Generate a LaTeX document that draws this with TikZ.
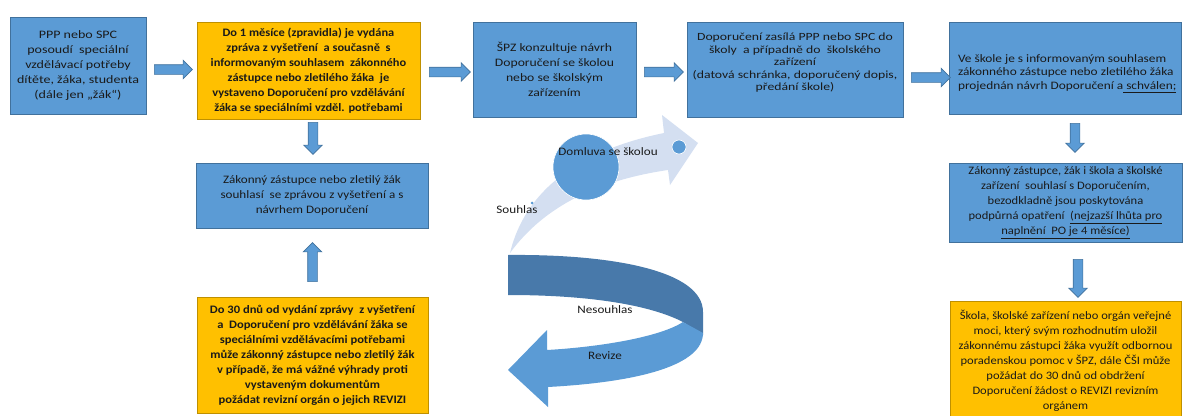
\documentclass[tikz,border=0pt]{standalone}
\usepackage{fontspec}
\setmainfont{Carlito}
\usetikzlibrary{shapes.arrows}
\definecolor{bfill}{HTML}{5B9BD5}
\definecolor{bline}{HTML}{41719C}
\definecolor{ofill}{HTML}{FFC000}
\definecolor{oline}{HTML}{BF9000}
\definecolor{dband}{HTML}{4879AA}
\definecolor{lband}{HTML}{D4DFF1}
\definecolor{txt}{HTML}{1A1A1A}
\newcommand\cf[1]{\fontspec{Carlito}[FakeStretch=#1]\fontsize{11.4}{15}\selectfont}
\begin{document}
\begin{tikzpicture}[x=1pt,y=-1pt,
  every node/.style={inner sep=0pt,outer sep=0pt,text=txt},
  bluebox/.style={draw=bline,fill=bfill,line width=0.7pt,align=center},
  orangebox/.style={draw=oline,fill=ofill,line width=0.7pt,align=center},
  barrow/.style={single arrow,draw=bline,fill=bfill,line width=0.6pt,inner xsep=0pt,inner ysep=4.5pt,single arrow head extend=4.5pt,single arrow head indent=0pt},
  vbarrow/.style={barrow,inner xsep=4.5pt,inner ysep=0pt},
  lbl/.style={font=\cf{1.15}}
]
\useasboundingbox (0,0) rectangle (1183,415);

% boxes
\node[bluebox,minimum width=136pt,minimum height=97pt,font=\cf{1.23}] (b1) at (78,65.5)
  {PPP nebo SPC\\posoudí\ \ speciální\\vzdělávací potřeby\\dítěte, žáka, studenta\\(dále jen „žák“)};
\node[orangebox,minimum width=223pt,minimum height=97pt,font=\cf{1.09}\bfseries] (b2) at (308.5,70.5)
  {Do 1 měsíce (zpravidla) je vydána\\zpráva z vyšetření\ \ a současně\ \ s\\informovaným souhlasem\ \ zákonného\\zástupce nebo zletilého žáka\ \ je\\vystaveno Doporučení pro vzdělávání\\žáka se speciálními vzděl. potřebami};
\node[bluebox,minimum width=163pt,minimum height=95pt,font=\cf{1.2}] (b3) at (554.5,69.5)
  {ŠPZ konzultuje návrh\\Doporučení se školou\\nebo se školským\\zařízením};
\node[bluebox,minimum width=216pt,minimum height=95pt] (b4) at (795,69.5) {};
\node[font=\cf{1.25}\fontsize{11}{12.5}\selectfont,align=center] (b4t) at (795,63)
  {Doporučení zasílá PPP nebo SPC do\\školy\ \ a případně do\ \ školského\\zařízení\\(datová schránka, doporučený dopis,\\předání škole)};
\node[bluebox,minimum width=232pt,minimum height=92pt] (b5) at (1065,68) {};
\node[font=\cf{1.17}\fontsize{11.4}{13.5}\selectfont,align=left,anchor=west] (b5t) at (958,73.5)
  {Ve škole je s informovaným souhlasem\\zákonného zástupce nebo zletilého žáka\\projednán návrh Doporučení a\underline{ schválen;}};
\node[bluebox,minimum width=233pt,minimum height=79pt,font=\cf{1.1}] (b6) at (1065.5,202.5)
  {Zákonný zástupce, žák i škola a školské\\zařízení\ \ souhlasí s Doporučením,\\bezodkladně jsou poskytována\\podpůrná opatření\ \ \underline{(nejzazší lhůta pro}\\\underline{naplnění\ \ PO je 4 měsíce)}};
\node[orangebox,minimum width=231pt,minimum height=119pt,font=\cf{1.1}] (b7) at (1065.5,360.5)
  {Škola, školské zařízení nebo orgán veřejné\\moci, který svým rozhodnutím uložil\\zákonnému zástupci žáka využít odbornou\\poradenskou pomoc v ŠPZ, dále ČŠI může\\požádat do 30 dnů od obdržení\\Doporučení žádost o REVIZI revizním\\orgánem};
\node[bluebox,minimum width=232pt,minimum height=65pt,font=\cf{1.15}] (b8) at (312,195.5)
  {Zákonný zástupce nebo zletilý žák\\souhlasí\ \ se zprávou z vyšetření a s\\návrhem Doporučení};
\node[orangebox,minimum width=231pt,minimum height=116pt,font=\cf{1.1}\bfseries] (b9) at (312.5,355)
  {Do 30 dnů od vydání zprávy\ \ z vyšetření\\a\ \ Doporučení pro vzdělávání žáka se\\speciálními vzdělávacími potřebami\\může zákonný zástupce nebo zletilý žák\\v případě, že má vážné výhrady proti\\vystaveným dokumentům\\požádat revizní orgán o jejich REVIZI};

% block arrows
\node[barrow,minimum height=38pt] (a1) at (171,69.5) {};
\node[barrow,minimum height=41pt] (a2) at (447.5,72) {};
\node[barrow,minimum height=39pt] (a3) at (661.5,72) {};
\node[barrow,minimum height=39pt] (a4) at (928.5,77.5) {};
\node[vbarrow,minimum height=32pt,shape border rotate=270] (a5) at (313,136) {};
\node[vbarrow,minimum height=29pt,shape border rotate=270] (a6) at (1075,135.5) {};
\node[vbarrow,minimum height=38pt,shape border rotate=270] (a7) at (1078,276) {};
\node[vbarrow,minimum height=39pt,shape border rotate=90] (a8) at (312.5,264.5) {};

% light curved arrow (Souhlas)
\fill[lband] (510,253) .. controls (525,190) and (580,150) .. (664,133)
  -- (662,115) -- (698,143) -- (670,185) -- (668,170)
  .. controls (600,180) and (545,205) .. (510,253) -- cycle;
\node[circle,fill=bfill,draw=white,line width=0.6pt,minimum size=66pt] (c1) at (586,167) {};
\node[circle,fill=bfill,draw=white,line width=0.6pt,minimum size=14pt] (c2) at (679,147) {};
\node[circle,fill=bfill,minimum size=3pt] (c3) at (532,203) {};
\node[lbl] (t1) at (608,152) {Domluva se školou};
\node[lbl] (t2) at (517,210) {Souhlas};

% dark curved arrow (Nesouhlas / Revize)
\fill[dband] (508,255) .. controls (610,254) and (703,270) .. (703,312) -- (703,335)
  -- (683,322) .. controls (650,305) and (590,295) .. (508,295) -- cycle;
\fill[bfill] (683,322) -- (703,333) .. controls (703,365) and (640,382) .. (548,387)
  -- (548,407) -- (508,370) -- (547,330) -- (547,350)
  .. controls (600,347) and (660,337) .. (683,322) -- cycle;
\node[lbl] (t3) at (605,310) {Nesouhlas};
\node[lbl] (t4) at (605,356) {Revize};
\end{tikzpicture}
\end{document}
